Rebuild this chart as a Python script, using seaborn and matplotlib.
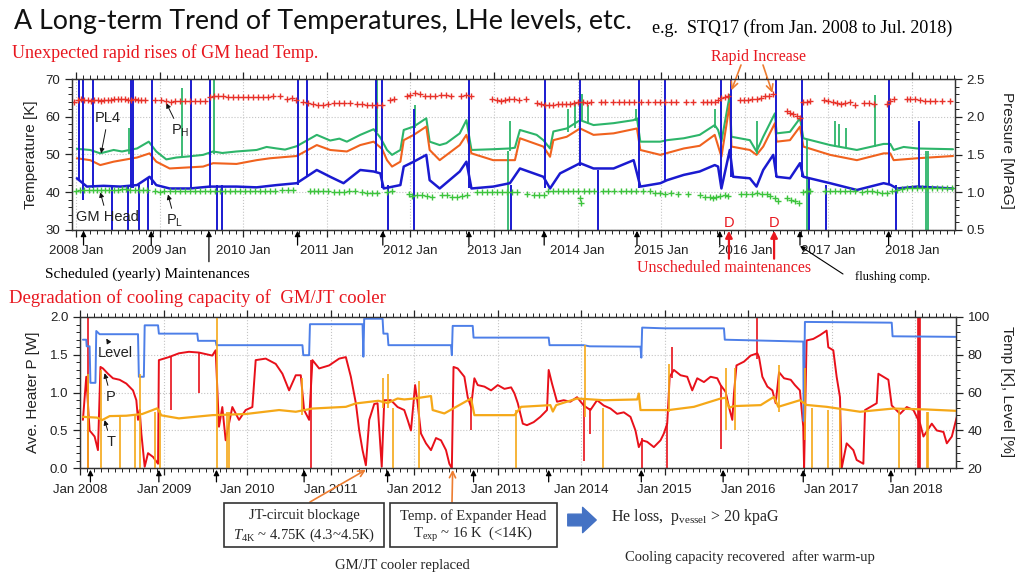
import matplotlib
matplotlib.use("Agg")
import matplotlib.pyplot as plt
from matplotlib.patches import Rectangle, FancyArrowPatch
from matplotlib.ticker import MultipleLocator, FixedLocator
import pandas as pd
import seaborn as sns

# ---------------- data (time in decimal years) ----------------
# top panel, temperatures [K]
green_top = [(2008.01, 51.5), (2008.17, 51.2), (2008.29, 50.3), (2008.45, 51.2), (2008.55, 50.8),
             (2008.73, 51.6), (2008.87, 53.4), (2008.96, 50.8), (2009.08, 48.7), (2009.20, 49.2),
             (2009.35, 49.5), (2009.52, 49.9), (2009.64, 50.8), (2009.75, 50.4), (2009.92, 50.8),
             (2010.16, 51.2), (2010.28, 52.0), (2010.40, 51.6), (2010.50, 51.3), (2010.64, 52.2),
             (2010.88, 55.2), (2011.04, 53.7), (2011.15, 54.2), (2011.24, 53.4), (2011.40, 55.2),
             (2011.56, 56.7), (2011.64, 54.5), (2011.72, 51.2), (2011.78, 49.9), (2011.88, 51.2),
             (2011.92, 56.5), (2012.04, 57.4), (2012.19, 59.6), (2012.23, 53.4), (2012.35, 52.5),
             (2012.43, 53.0), (2012.59, 55.6), (2012.67, 59.1), (2012.73, 51.2), (2012.99, 51.4),
             (2013.19, 51.6), (2013.25, 51.8), (2013.31, 56.5), (2013.51, 55.2), (2013.59, 53.8),
             (2013.67, 51.6), (2013.71, 56.1), (2013.87, 56.9), (2014.03, 59.1), (2014.19, 57.8),
             (2014.43, 58.3), (2014.67, 59.1), (2014.71, 59.6), (2014.75, 53.4), (2014.99, 53.4),
             (2015.07, 53.8), (2015.27, 54.3), (2015.46, 55.2), (2015.64, 57.8), (2015.68, 56.5),
             (2015.72, 53.4), (2015.82, 65.8), (2015.84, 54.7), (2016.06, 53.8), (2016.14, 50.8),
             (2016.22, 54.7), (2016.36, 60.9), (2016.38, 55.6), (2016.54, 56.0), (2016.66, 59.6),
             (2016.70, 54.3), (2017.02, 52.5), (2017.34, 51.2), (2017.66, 52.8), (2017.74, 52.8),
             (2017.78, 51.2), (2017.90, 52.0), (2018.06, 51.6), (2018.49, 51.4)]
orange_top = [(2008.01, 49.0), (2008.17, 48.5), (2008.29, 47.2), (2008.45, 48.1), (2008.73, 49.2),
              (2008.88, 50.3), (2008.96, 48.1), (2009.12, 46.3), (2009.52, 46.8), (2009.64, 47.7),
              (2009.92, 47.5), (2010.16, 48.5), (2010.32, 49.0), (2010.64, 49.6), (2010.88, 52.5),
              (2011.04, 51.2), (2011.24, 50.8), (2011.40, 52.5), (2011.56, 53.4), (2011.66, 51.5),
              (2011.72, 48.5), (2011.78, 46.8), (2011.88, 48.1), (2011.92, 53.8), (2012.04, 55.2),
              (2012.19, 57.4), (2012.23, 51.2), (2012.35, 48.5), (2012.59, 52.5), (2012.67, 55.2),
              (2012.73, 50.3), (2012.99, 48.5), (2013.25, 48.5), (2013.31, 54.3), (2013.59, 52.1),
              (2013.67, 49.4), (2013.71, 53.8), (2013.87, 54.7), (2014.03, 56.9), (2014.19, 55.2),
              (2014.43, 55.6), (2014.71, 56.9), (2014.75, 51.2), (2014.99, 49.9), (2015.27, 51.6),
              (2015.46, 52.3), (2015.64, 55.2), (2015.72, 49.4), (2015.82, 63.5), (2015.84, 52.1),
              (2016.06, 51.2), (2016.14, 49.9), (2016.22, 52.1), (2016.36, 58.3), (2016.38, 53.4),
              (2016.54, 53.8), (2016.66, 57.4), (2016.70, 52.1), (2017.02, 49.9), (2017.34, 48.5),
              (2017.66, 50.3), (2017.74, 50.3), (2017.78, 48.5), (2018.06, 49.0), (2018.49, 49.6)]
blue_top = [(2008.01, 43.7), (2008.13, 41.5), (2008.33, 41.7), (2008.53, 41.5), (2008.73, 41.9),
            (2008.88, 44.1), (2008.96, 41.9), (2009.12, 41.0), (2009.36, 41.0), (2009.60, 41.5),
            (2009.92, 41.5), (2010.16, 41.3), (2010.40, 41.9), (2010.64, 42.4), (2010.88, 45.9),
            (2011.04, 44.1), (2011.20, 42.4), (2011.40, 45.9), (2011.56, 45.5), (2011.64, 45.0),
            (2011.68, 41.0), (2011.88, 41.9), (2011.92, 46.8), (2012.04, 48.1), (2012.19, 49.9),
            (2012.23, 43.2), (2012.35, 41.0), (2012.59, 45.5), (2012.67, 48.1), (2012.73, 41.0),
            (2012.99, 41.5), (2013.19, 42.4), (2013.31, 46.3), (2013.59, 44.1), (2013.67, 41.0),
            (2013.79, 45.0), (2014.03, 47.7), (2014.19, 46.3), (2014.43, 46.3), (2014.67, 48.5),
            (2014.75, 41.5), (2014.99, 42.4), (2015.07, 43.2), (2015.27, 44.6), (2015.46, 45.5),
            (2015.64, 47.2), (2015.68, 46.8), (2015.72, 41.0), (2015.82, 51.2), (2015.86, 44.1),
            (2016.06, 43.7), (2016.14, 41.5), (2016.22, 45.9), (2016.34, 49.9), (2016.38, 44.1),
            (2016.54, 43.7), (2016.66, 47.7), (2016.70, 44.1), (2017.02, 42.4), (2017.34, 40.6),
            (2017.66, 42.4), (2017.74, 42.0), (2017.82, 41.0), (2018.06, 41.5), (2018.49, 41.0)]
# short excursions: (time, low, high)
blue_spikes = [(2008.03, 43, 70), (2008.08, 38, 70), (2008.20, 41, 70), (2008.43, 30, 42),
               (2008.62, 30, 42), (2008.66, 41, 70), (2008.68, 41, 70), (2008.75, 30, 42),
               (2008.86, 30, 44), (2008.91, 42, 70), (2009.38, 41, 70), (2009.60, 41, 70),
               (2009.69, 30, 42), (2009.75, 30, 42), (2010.65, 42, 70), (2010.76, 44, 70),
               (2011.59, 45, 70), (2011.66, 41, 70), (2011.73, 30, 42), (2012.04, 30, 62),
               (2012.70, 41, 70), (2013.20, 30, 42), (2013.61, 41, 70), (2014.03, 47, 70),
               (2014.24, 30, 46), (2014.73, 41, 70), (2015.05, 43, 70), (2015.72, 41, 70),
               (2015.84, 44, 70), (2016.37, 44, 70), (2016.68, 44, 70), (2016.77, 30, 44),
               (2016.97, 30, 42), (2017.73, 42, 70), (2017.81, 30, 42), (2018.08, 41, 59)]
green_spikes = [(2008.63, 50, 57), (2009.27, 49, 67.7), (2009.65, 50, 70), (2011.60, 56, 70),
                (2012.05, 57, 63), (2013.17, 30, 51), (2013.19, 51, 59), (2013.88, 56, 62),
                (2013.97, 57, 64), (2014.05, 59, 66), (2014.12, 58, 63), (2014.70, 59, 62),
                (2015.64, 57, 62), (2016.14, 50, 59), (2016.74, 30, 54), (2017.08, 52, 59),
                (2017.13, 52, 58), (2017.21, 52, 57), (2017.56, 52, 65.8), (2018.17, 30, 51),
                (2018.19, 30, 51)]
# compressor pressures [MPaG]
ph_points = [(2007.98, 2.19), (2008.02, 2.22), (2008.06, 2.23), (2008.10, 2.22), (2008.14, 2.22),
             (2008.18, 2.21), (2008.22, 2.22), (2008.26, 2.22), (2008.30, 2.21), (2008.34, 2.22),
             (2008.38, 2.22), (2008.42, 2.22), (2008.46, 2.23), (2008.50, 2.23), (2008.54, 2.23),
             (2008.58, 2.23), (2008.62, 2.22), (2008.66, 2.22), (2008.70, 2.23), (2008.74, 2.22),
             (2008.78, 2.22), (2008.82, 2.22), (2008.95, 2.22), (2009.02, 2.22), (2009.08, 2.21),
             (2009.14, 2.20), (2009.18, 2.21), (2009.24, 2.21), (2009.30, 2.21), (2009.36, 2.21),
             (2009.42, 2.21), (2009.48, 2.21), (2009.54, 2.21), (2009.60, 2.26), (2009.65, 2.27),
             (2009.70, 2.27), (2009.76, 2.27), (2009.82, 2.26), (2009.88, 2.26), (2009.94, 2.26),
             (2010.00, 2.26), (2010.06, 2.26), (2010.12, 2.26), (2010.18, 2.26), (2010.24, 2.26),
             (2010.30, 2.26), (2010.36, 2.27), (2010.44, 2.27), (2010.52, 2.24), (2010.58, 2.25),
             (2010.63, 2.22), (2010.72, 2.20), (2010.78, 2.18), (2010.84, 2.17), (2010.90, 2.16),
             (2010.96, 2.15), (2011.02, 2.17), (2011.08, 2.18), (2011.14, 2.18), (2011.20, 2.18),
             (2011.28, 2.18), (2011.36, 2.17), (2011.42, 2.17), (2011.48, 2.16), (2011.54, 2.16),
             (2011.60, 2.15), (2011.66, 2.16), (2011.76, 2.22), (2011.80, 2.24), (2011.96, 2.28),
             (2012.00, 2.29), (2012.06, 2.31), (2012.12, 2.30), (2012.18, 2.28), (2012.24, 2.28),
             (2012.30, 2.28), (2012.36, 2.29), (2012.42, 2.29), (2012.48, 2.28), (2012.60, 2.28),
             (2012.66, 2.29), (2012.72, 2.27), (2012.98, 2.23), (2013.03, 2.22), (2013.08, 2.21),
             (2013.13, 2.22), (2013.18, 2.23), (2013.24, 2.24), (2013.30, 2.22), (2013.38, 2.23),
             (2013.52, 2.18), (2013.56, 2.17), (2013.61, 2.16), (2013.66, 2.16), (2013.71, 2.16),
             (2013.76, 2.17), (2013.81, 2.17), (2013.86, 2.17), (2013.91, 2.17), (2013.96, 2.18),
             (2014.01, 2.19), (2014.06, 2.19), (2014.11, 2.18), (2014.16, 2.19), (2014.28, 2.19),
             (2014.33, 2.19), (2014.42, 2.19), (2014.50, 2.19), (2014.56, 2.19), (2014.62, 2.19),
             (2014.68, 2.20), (2014.76, 2.19), (2014.84, 2.19), (2014.92, 2.19), (2014.98, 2.19),
             (2015.04, 2.19), (2015.12, 2.19), (2015.18, 2.19), (2015.30, 2.19), (2015.38, 2.20),
             (2015.50, 2.20), (2015.55, 2.20), (2015.60, 2.19), (2015.64, 2.20), (2015.68, 2.22),
             (2015.72, 2.25), (2015.76, 2.26), (2015.80, 2.28), (2015.94, 2.22), (2015.99, 2.22),
             (2016.04, 2.22), (2016.09, 2.23), (2016.14, 2.24), (2016.19, 2.25), (2016.24, 2.27),
             (2016.29, 2.28), (2016.34, 2.30), (2016.50, 2.07), (2016.54, 2.05), (2016.58, 2.03),
             (2016.62, 2.01), (2016.66, 1.99), (2016.70, 2.20), (2016.74, 2.20), (2016.78, 2.21),
             (2016.95, 2.22), (2017.00, 2.21), (2017.05, 2.19), (2017.10, 2.18), (2017.15, 2.17),
             (2017.20, 2.18), (2017.26, 2.20), (2017.32, 2.16), (2017.42, 2.18), (2017.48, 2.18),
             (2017.55, 2.17), (2017.70, 2.17), (2017.74, 2.21), (2017.78, 2.24), (2017.94, 2.23),
             (2017.98, 2.24), (2018.04, 2.23), (2018.10, 2.22), (2018.16, 2.21), (2018.22, 2.21),
             (2018.28, 2.21), (2018.36, 2.21), (2018.46, 2.21)]
pl_points = [(2008.00, 1.02), (2008.05, 1.03), (2008.10, 1.03), (2008.15, 1.03), (2008.20, 1.03),
             (2008.25, 1.03), (2008.30, 1.03), (2008.35, 1.03), (2008.40, 1.03), (2008.45, 1.03),
             (2008.50, 1.03), (2008.55, 1.04), (2008.60, 1.04), (2008.65, 1.03), (2008.70, 1.03),
             (2008.75, 1.03), (2008.80, 1.03), (2008.85, 1.03), (2008.95, 1.01), (2009.00, 1.00),
             (2009.05, 1.01), (2009.12, 1.02), (2009.18, 1.02), (2009.24, 1.02), (2009.30, 1.02),
             (2009.36, 1.01), (2009.42, 1.01), (2009.48, 1.01), (2009.54, 1.02), (2009.60, 1.02),
             (2009.66, 1.02), (2009.72, 1.02), (2009.78, 1.02), (2009.84, 1.02), (2009.90, 1.02),
             (2009.96, 1.02), (2010.02, 1.02), (2010.08, 1.02), (2010.14, 1.02), (2010.20, 1.02),
             (2010.26, 1.02), (2010.32, 1.02), (2010.38, 1.02), (2010.46, 1.03), (2010.54, 1.03),
             (2010.60, 1.03), (2010.80, 1.02), (2010.85, 1.01), (2010.90, 1.01), (2010.96, 1.02),
             (2011.02, 1.01), (2011.08, 1.00), (2011.14, 1.00), (2011.20, 1.00), (2011.26, 1.01),
             (2011.34, 1.01), (2011.42, 1.00), (2011.48, 0.99), (2011.54, 0.99), (2011.60, 0.99),
             (2011.72, 1.00), (2011.78, 1.01), (2011.98, 0.98), (2012.02, 0.95), (2012.08, 0.96),
             (2012.14, 0.96), (2012.20, 0.95), (2012.26, 0.94), (2012.38, 0.96), (2012.44, 0.96),
             (2012.50, 0.94), (2012.56, 0.94), (2012.62, 0.95), (2012.68, 0.96), (2012.80, 1.00),
             (2012.86, 1.00), (2012.92, 1.00), (2012.98, 1.00), (2013.04, 1.00), (2013.10, 1.00),
             (2013.16, 1.00), (2013.22, 1.00), (2013.28, 1.00), (2013.40, 0.98), (2013.48, 0.96),
             (2013.54, 0.97), (2013.60, 0.97), (2013.64, 1.01), (2013.70, 1.01), (2013.76, 1.01),
             (2013.82, 1.01), (2013.88, 1.01), (2013.94, 1.01), (2014.00, 1.01), (2014.03, 0.93),
             (2014.04, 0.86), (2014.08, 1.01), (2014.14, 1.01), (2014.20, 1.01), (2014.30, 1.01),
             (2014.36, 1.01), (2014.44, 1.01), (2014.52, 1.01), (2014.58, 1.01), (2014.64, 1.01),
             (2014.70, 1.01), (2014.78, 1.01), (2014.86, 1.01), (2014.92, 0.99), (2014.98, 0.99),
             (2015.04, 0.98), (2015.12, 0.99), (2015.20, 0.98), (2015.32, 0.98), (2015.46, 0.96),
             (2015.52, 0.94), (2015.58, 0.94), (2015.62, 0.93), (2015.66, 0.94), (2015.70, 0.95),
             (2015.76, 0.96), (2015.80, 0.95), (2015.96, 0.98), (2016.02, 0.98), (2016.08, 0.98),
             (2016.14, 0.99), (2016.20, 0.98), (2016.26, 0.98), (2016.30, 0.95), (2016.36, 0.92),
             (2016.40, 0.89), (2016.50, 0.92), (2016.55, 0.90), (2016.60, 0.88), (2016.65, 0.86),
             (2016.70, 1.00), (2016.74, 1.01), (2016.78, 1.01), (2016.96, 1.01), (2017.02, 1.01),
             (2017.08, 1.01), (2017.14, 1.01), (2017.20, 1.01), (2017.26, 1.02), (2017.32, 1.01),
             (2017.40, 1.00), (2017.46, 1.01), (2017.52, 1.01), (2017.58, 1.00), (2017.64, 0.99),
             (2017.70, 0.99), (2017.76, 1.02), (2017.82, 1.03), (2017.88, 1.04), (2017.94, 1.05),
             (2018.00, 1.05), (2018.06, 1.06), (2018.12, 1.05), (2018.18, 1.05), (2018.24, 1.05),
             (2018.30, 1.05), (2018.36, 1.05), (2018.42, 1.05), (2018.48, 1.05)]

# bottom panel: heater power [W], temperature [K], LHe level [%]
heater_p = [(2008.03, 0.64), (2008.07, 1.21), (2008.11, 0.50), (2008.17, 0.42), (2008.21, 0.24),
            (2008.24, 1.34), (2008.27, 1.32), (2008.33, 1.25), (2008.39, 1.19), (2008.47, 1.17),
            (2008.55, 1.12), (2008.63, 1.03), (2008.67, 0.90), (2008.69, 0.64), (2008.71, 0.77),
            (2008.73, 0.46), (2008.77, 0.02), (2008.81, 0.20), (2008.87, 0.15), (2008.93, 0.06),
            (2008.94, 1.43), (2009.06, 1.47), (2009.18, 1.52), (2009.30, 1.54), (2009.42, 1.53),
            (2009.58, 1.49), (2009.62, 1.56), (2009.66, 0.55), (2009.70, 0.81), (2009.74, 0.37),
            (2009.82, 0.81), (2009.90, 0.64), (2009.98, 0.77), (2010.06, 0.81), (2010.10, 1.43),
            (2010.22, 1.45), (2010.34, 1.38), (2010.42, 1.25), (2010.50, 1.03), (2010.58, 1.23),
            (2010.64, 1.23), (2010.68, 0.77), (2010.74, 0.64), (2010.78, 1.43), (2010.86, 1.32),
            (2010.98, 1.36), (2011.10, 1.45), (2011.18, 1.47), (2011.24, 1.21), (2011.30, 0.86),
            (2011.34, 0.50), (2011.38, 0.24), (2011.42, 0.04), (2011.46, 0.64), (2011.52, 0.85),
            (2011.56, 0.86), (2011.61, 0.02), (2011.64, 0.90), (2011.72, 0.90), (2011.80, 0.81),
            (2011.88, 0.77), (2011.92, 0.64), (2011.96, 0.50), (2012.01, 1.10), (2012.04, 0.86),
            (2012.08, 0.46), (2012.14, 0.33), (2012.20, 0.24), (2012.26, 0.40), (2012.32, 0.37),
            (2012.38, 0.24), (2012.42, 0.06), (2012.45, 0.00), (2012.47, 1.34), (2012.52, 1.32),
            (2012.60, 1.21), (2012.64, 0.94), (2012.68, 0.81), (2012.72, 1.19), (2012.76, 1.10),
            (2012.84, 1.08), (2012.92, 1.03), (2013.00, 1.10), (2013.08, 1.05), (2013.16, 1.07),
            (2013.20, 0.99), (2013.24, 0.86), (2013.30, 0.59), (2013.35, 0.57), (2013.43, 0.61),
            (2013.51, 0.68), (2013.59, 0.77), (2013.61, 1.30), (2013.65, 1.12), (2013.71, 0.88),
            (2013.79, 0.90), (2013.87, 0.88), (2013.95, 0.94), (2014.03, 0.83), (2014.11, 0.77),
            (2014.19, 0.90), (2014.27, 0.83), (2014.35, 0.79), (2014.43, 0.72), (2014.51, 0.74),
            (2014.59, 0.68), (2014.65, 0.50), (2014.69, 0.28), (2014.73, 0.37), (2014.79, 0.35),
            (2014.87, 0.28), (2014.95, 0.37), (2014.99, 0.46), (2015.03, 0.59), (2015.06, 1.21),
            (2015.11, 1.30), (2015.19, 1.23), (2015.27, 1.21), (2015.33, 1.03), (2015.39, 1.19),
            (2015.47, 1.14), (2015.55, 1.21), (2015.63, 1.19), (2015.67, 1.10), (2015.73, 1.01),
            (2015.77, 0.81), (2015.81, 0.64), (2015.83, 0.99), (2015.86, 1.36), (2015.95, 1.41),
            (2016.03, 1.49), (2016.11, 1.52), (2016.13, 1.47), (2016.17, 1.21), (2016.23, 1.08),
            (2016.29, 1.03), (2016.33, 0.86), (2016.37, 1.27), (2016.43, 1.19), (2016.51, 1.17),
            (2016.56, 1.10), (2016.62, 1.03), (2016.66, 0.55), (2016.67, 0.00), (2016.70, 1.69),
            (2016.78, 1.71), (2016.86, 1.76), (2016.94, 1.82), (2016.96, 1.60), (2017.02, 1.56),
            (2017.06, 1.21), (2017.10, 0.94), (2017.12, 0.00), (2017.18, 0.33), (2017.26, 0.24),
            (2017.30, 0.11), (2017.38, 0.06), (2017.40, 0.77), (2017.54, 0.86), (2017.56, 1.25),
            (2017.68, 1.17), (2017.72, 0.83), (2017.82, 0.72), (2017.90, 0.81), (2017.98, 0.77),
            (2018.06, 0.59), (2018.10, 0.42), (2018.20, 0.59), (2018.26, 0.50), (2018.34, 0.48),
            (2018.38, 0.33), (2018.44, 0.42), (2018.50, 0.68)]
heater_spikes = [(2008.09, 0.0, 2.0), (2009.08, 0.77, 1.47), (2009.42, 1.0, 1.53),
                 (2010.76, 0.0, 1.43), (2012.68, 0.5, 0.94), (2014.03, 0.1, 0.90),
                 (2014.11, 0.45, 0.80), (2014.73, 0.0, 0.40), (2015.03, 0.0, 0.60),
                 (2015.09, 1.2, 1.6), (2015.67, 0.26, 1.10), (2016.11, 1.45, 2.0),
                 (2018.04, 0.0, 2.0), (2018.05, 0.0, 2.0), (2018.06, 0.0, 2.0)]
temp_t = [(2008.03, 47.2), (2008.20, 46.8), (2008.26, 45.5), (2008.35, 47.6), (2008.55, 47.8),
          (2008.74, 48.7), (2008.92, 51.7), (2008.97, 48.0), (2009.18, 46.4), (2009.58, 48.1),
          (2009.98, 48.7), (2010.38, 50.8), (2010.58, 49.9), (2010.78, 51.6), (2011.18, 52.5),
          (2011.30, 54.3), (2011.57, 55.7), (2011.68, 54.5), (2011.80, 56.9), (2011.88, 56.4),
          (2012.00, 56.9), (2012.20, 58.2), (2012.22, 50.8), (2012.36, 49.0), (2012.68, 56.9),
          (2012.72, 48.1), (2013.20, 48.1), (2013.28, 52.5), (2013.63, 53.4), (2013.66, 50.0),
          (2013.70, 53.4), (2013.95, 56.9), (2014.27, 56.0), (2014.67, 56.4), (2014.69, 59.5),
          (2014.71, 50.8), (2015.05, 50.8), (2015.35, 52.5), (2015.67, 56.9), (2015.73, 57.3),
          (2015.77, 52.0), (2015.83, 52.9), (2016.15, 53.4), (2016.31, 57.8), (2016.36, 52.5),
          (2016.62, 56.0), (2016.70, 53.5), (2016.94, 52.5), (2017.34, 49.9), (2017.74, 51.6),
          (2018.14, 51.1), (2018.49, 50.4)]
temp_spikes = [(2008.09, 20, 70), (2008.25, 20, 72), (2008.47, 20, 47), (2008.65, 20, 48),
               (2008.71, 20, 70), (2008.89, 20, 50), (2008.95, 20, 51), (2009.64, 20, 100),
               (2009.76, 20, 50), (2009.78, 20, 50), (2010.66, 48, 68), (2011.62, 52, 68),
               (2011.68, 52, 70), (2011.75, 20, 52), (2012.06, 20, 66), (2013.22, 20, 51),
               (2014.04, 47, 85), (2014.26, 20, 52), (2015.05, 50, 75), (2015.73, 40, 73),
               (2015.84, 40, 73), (2016.37, 50, 74.5), (2016.68, 35, 73), (2016.76, 20, 52),
               (2016.96, 20, 51), (2017.10, 20, 51), (2017.81, 20, 51), (2018.14, 20, 50),
               (2018.16, 20, 50)]
level = [(2008.03, 88.0), (2008.07, 88.0), (2008.075, 84.5), (2008.11, 84.5), (2008.12, 65.2),
         (2008.18, 65.2), (2008.19, 92.6), (2008.23, 90.9), (2008.69, 90.9), (2008.70, 68.4),
         (2008.76, 68.4), (2008.77, 95.6), (2008.93, 95.6), (2008.94, 91.2), (2009.40, 91.2),
         (2009.41, 87.4), (2009.62, 87.4), (2009.63, 85.1), (2010.66, 85.1), (2010.67, 79.8),
         (2010.74, 79.8), (2010.75, 96.2), (2011.38, 96.2), (2011.39, 79.0), (2011.40, 99.1),
         (2011.62, 99.1), (2011.63, 91.2), (2011.68, 91.2), (2011.69, 85.1), (2012.44, 85.1),
         (2012.45, 79.8), (2012.46, 95.3), (2012.70, 95.3), (2012.71, 89.1), (2013.61, 89.1),
         (2013.62, 85.1), (2014.03, 85.1), (2014.10, 84.5), (2014.71, 84.3), (2014.72, 78.5),
         (2014.73, 94.4), (2015.00, 94.0), (2015.71, 94.0), (2015.72, 88.0), (2016.66, 87.0),
         (2016.665, 45.0), (2016.68, 97.4), (2017.72, 97.0), (2017.73, 89.8), (2018.49, 89.5)]

years = list(range(2008, 2019))
maint_top = [2008.09, 2008.90, 2009.59, 2010.65, 2011.67, 2012.70, 2013.60, 2014.71,
             2015.70, 2016.66, 2017.72]
maint_bottom = [2008.12, 2008.94, 2009.63, 2010.68, 2011.68, 2012.71, 2013.61, 2014.72,
                2015.70, 2016.66, 2017.71]
unscheduled = [2015.81, 2016.35]

# ---------------- style ----------------
sns.set_theme(style="white")
plt.rcParams["font.family"] = ["Liberation Sans", "DejaVu Sans"]
plt.rcParams["mathtext.fontset"] = "custom"
plt.rcParams["mathtext.rm"] = "Liberation Serif"
plt.rcParams["mathtext.it"] = "Liberation Serif:italic"
plt.rcParams["mathtext.sf"] = "Liberation Sans"

W, H = 1024, 576
RED = "#e8171f"
ORANGE_ARROW = "#ed7d31"
SERIF = ["Liberation Serif", "DejaVu Serif"]


def fp(x, y):
    # figure pixel (from top-left) -> figure fraction
    return (x / W, 1 - y / H)


def to_df(pairs):
    return pd.DataFrame(pairs, columns=["t", "v"])


def draw_line(ax, pairs, color, lw=1.5):
    d = to_df(pairs)
    sns.lineplot(data=d, x="t", y="v", ax=ax, color=color, lw=lw,
                 estimator=None, sort=False, legend=False)


def draw_spikes(ax, spikes, color, lw=1.3):
    d = pd.DataFrame(spikes, columns=["t", "lo", "hi"])
    ax.vlines(d["t"], d["lo"], d["hi"], colors=color, lw=lw)


def style_axis(ax, axr, xlim, xfmt):
    ax.set_xlim(*xlim)
    ax.xaxis.set_major_locator(FixedLocator(years))
    ax.set_xticklabels([xfmt.format(y) for y in years])
    ax.xaxis.set_minor_locator(MultipleLocator(1 / 12))
    ax.tick_params(axis="x", which="both", direction="out", top=True, bottom=True,
                   labelsize=9.5, colors="#222222", pad=6)
    ax.tick_params(which="major", length=5, width=0.9)
    ax.tick_params(which="minor", length=3, width=0.7)
    ax.tick_params(axis="y", which="both", direction="out", labelsize=9.5, colors="#222222")
    axr.tick_params(axis="y", which="both", direction="out", labelsize=9.5, colors="#222222")
    axr.tick_params(which="major", length=5, width=0.9)
    axr.tick_params(which="minor", length=3, width=0.7)
    ax.grid(True, which="major", color="#c4c4c4", ls=":", lw=0.8)
    axr.grid(False)
    for a in (ax, axr):
        for s in a.spines.values():
            s.set_color("#333333")
            s.set_linewidth(0.9)
    ax.set_xlabel("")
    ax.set_ylabel("")
    axr.set_xlabel("")
    axr.set_ylabel("")


fig = plt.figure(figsize=(W / 100, H / 100), dpi=100)
fig.patch.set_facecolor("white")

# ---------------- top panel ----------------
ax_t = fig.add_axes([72 / W, 1 - 230 / H, (955 - 72) / W, (230 - 79) / H])
ax_tp = ax_t.twinx()

draw_line(ax_t, green_top, "#2db56a")
draw_line(ax_t, orange_top, "#f0621e")
draw_spikes(ax_t, green_spikes, "#2db56a")
draw_line(ax_t, blue_top, "#1a1ad0", lw=1.8)
draw_spikes(ax_t, blue_spikes, "#1a1ad0", lw=1.4)

ph = to_df(ph_points)
pl = to_df(pl_points)
sns.scatterplot(data=ph, x="t", y="v", ax=ax_tp, marker="+", s=20, color="#e8322a",
                linewidth=1.0, legend=False)
sns.scatterplot(data=pl, x="t", y="v", ax=ax_tp, marker="+", s=20, color="#3dc43d",
                linewidth=1.0, legend=False)

ax_t.set_ylim(30, 70)
ax_t.yaxis.set_major_locator(MultipleLocator(10))
ax_t.yaxis.set_minor_locator(MultipleLocator(2))
ax_tp.set_ylim(0.5, 2.5)
ax_tp.yaxis.set_major_locator(MultipleLocator(0.5))
ax_tp.yaxis.set_minor_locator(MultipleLocator(0.1))
ax_tp.yaxis.set_major_formatter(matplotlib.ticker.FormatStrFormatter("%.1f"))
style_axis(ax_t, ax_tp, (2007.952, 2018.514), "{} Jan")

# curve labels
lab_kw = dict(fontsize=10.5, color="#222222", ha="center", va="center",
              textcoords="figure fraction",
              arrowprops=dict(arrowstyle="-|>", color="#111111", lw=0.7, mutation_scale=7,
                              shrinkA=1, shrinkB=0))
ax_t.annotate("PL4", xy=(2008.30, 50.3), xytext=fp(108, 118), **lab_kw)
ax_t.annotate(r"P$_{\mathsf{H}}$", xy=(2009.08, 63.6), xytext=fp(180, 131), **lab_kw)
ax_t.annotate("GM Head", xy=(2008.29, 40.0), xytext=fp(107, 217), **lab_kw)
ax_t.annotate(r"P$_{\mathsf{L}}$", xy=(2009.10, 39.4), xytext=fp(175, 221), **lab_kw)

# maintenance arrows under the top axis
xt = ax_t.get_xaxis_transform()
for t in maint_top:
    tail = -0.21 if t == 2009.59 else -0.10
    ax_t.annotate("", xy=(t, -0.005), xycoords=xt, xytext=(t, tail), textcoords=xt,
                  annotation_clip=False,
                  arrowprops=dict(arrowstyle="-|>", color="black", lw=0.9, mutation_scale=8,
                                  shrinkA=0, shrinkB=0))
for t in unscheduled:
    ax_t.annotate("", xy=(t, -0.005), xycoords=xt, xytext=(t, -0.19), textcoords=xt,
                  annotation_clip=False,
                  arrowprops=dict(arrowstyle="-|>", color=RED, lw=1.6, mutation_scale=10,
                                  shrinkA=0, shrinkB=0))
    ax_t.text(t, 0.045, "D", transform=xt, color=RED, fontsize=10.5, ha="center", va="center")

# rapid increase arrows
for tip, start in [((2015.84, 67.0), (741, 65)), ((2016.33, 66.3), (763, 65))]:
    ax_t.annotate("", xy=tip, xytext=fp(*start), textcoords="figure fraction",
                  annotation_clip=False,
                  arrowprops=dict(arrowstyle="->", color=ORANGE_ARROW, lw=1.2,
                                  mutation_scale=12, shrinkA=0, shrinkB=0))

# ---------------- bottom panel ----------------
ax_b = fig.add_axes([80 / W, 1 - 468.3 / H, (956 - 80) / W, (468.3 - 317) / H])
ax_bp = ax_b.twinx()

draw_line(ax_b, heater_p, "#e8101a", lw=1.4)
draw_spikes(ax_b, heater_spikes, "#e8101a", lw=1.2)
draw_line(ax_bp, level, "#4d7fe8", lw=1.4)
draw_line(ax_bp, temp_t, "#f5a818", lw=1.6)
draw_spikes(ax_bp, temp_spikes, "#f5a818", lw=1.2)

ax_b.set_ylim(0, 2.0)
ax_b.yaxis.set_major_locator(MultipleLocator(0.5))
ax_b.yaxis.set_minor_locator(MultipleLocator(0.1))
ax_b.yaxis.set_major_formatter(matplotlib.ticker.FormatStrFormatter("%.1f"))
ax_bp.set_ylim(20, 100)
ax_bp.yaxis.set_major_locator(MultipleLocator(20))
ax_bp.yaxis.set_minor_locator(MultipleLocator(4))
style_axis(ax_b, ax_bp, (2007.995, 2018.49), "Jan {}")

ax_b.annotate("Level", xy=(2008.31, 1.715), xytext=fp(115, 353), **lab_kw)
ax_b.annotate("P", xy=(2008.29, 1.257), xytext=fp(111, 397), **lab_kw)
ax_b.annotate("T", xy=(2008.29, 0.637), xytext=fp(111, 442), **lab_kw)

xb = ax_b.get_xaxis_transform()
for t in maint_bottom:
    ax_b.annotate("", xy=(t, -0.01), xycoords=xb, xytext=(t, -0.09), textcoords=xb,
                  annotation_clip=False,
                  arrowprops=dict(arrowstyle="-|>", color="black", lw=0.9, mutation_scale=8,
                                  shrinkA=0, shrinkB=0))

for tip, start in [((2011.42, -0.01), (310, 502)), ((2012.46, -0.01), (452, 502))]:
    ax_b.annotate("", xy=tip, xycoords=xb, xytext=fp(*start), textcoords="figure fraction",
                  annotation_clip=False,
                  arrowprops=dict(arrowstyle="->", color=ORANGE_ARROW, lw=1.2,
                                  mutation_scale=11, shrinkA=0, shrinkB=0))

# ---------------- axis titles ----------------
fig.text(*fp(31, 155), "Temperature [K]", rotation=90, ha="center", va="center",
         fontsize=11, color="#222222")
fig.text(*fp(1007, 150), "Pressure [MPaG]", rotation=270, ha="center", va="center",
         fontsize=11, color="#222222")
fig.text(*fp(33, 392), "Ave. Heater P [W]", rotation=90, ha="center", va="center",
         fontsize=11, color="#222222")
fig.text(*fp(1007, 392), "Temp [K], Level [%]", rotation=270, ha="center", va="center",
         fontsize=11, color="#222222")

# ---------------- slide texts ----------------
fig.text(*fp(14, 22), "A Long-term Trend of Temperatures, LHe levels, etc.", ha="left",
         va="center", fontsize=19.3, family=["Lato", "DejaVu Sans"], color="#111111")
fig.text(*fp(652, 28), "e.g.  STQ17 (from Jan. 2008 to Jul. 2018)", ha="left", va="center",
         fontsize=13, family=SERIF, color="black")
fig.text(*fp(12, 53), "Unexpected rapid rises of GM head Temp.", ha="left", va="center",
         fontsize=13, family=SERIF, color=RED)
fig.text(*fp(711, 57), "Rapid Increase", ha="left", va="center", fontsize=11.5,
         family=SERIF, color=RED)
fig.text(*fp(45, 274), "Scheduled (yearly) Maintenances", ha="left", va="center",
         fontsize=11, family=SERIF, color="black")
fig.text(*fp(637, 268), "Unscheduled maintenances", ha="left", va="center",
         fontsize=11.5, family=SERIF, color=RED)
fig.text(*fp(855, 277), "flushing comp.", ha="left", va="center", fontsize=9,
         family=SERIF, color="black")
ax_t.annotate("", xy=fp(800, 246), xycoords="figure fraction", xytext=fp(843, 274),
              textcoords="figure fraction", annotation_clip=False,
              arrowprops=dict(arrowstyle="-|>", color="black", lw=0.8, mutation_scale=7,
                              shrinkA=0, shrinkB=0))
fig.text(*fp(9, 298), "Degradation of cooling capacity of  GM/JT cooler", ha="left",
         va="center", fontsize=13.5, family=SERIF, color=RED)

# boxes
for x0, x1 in [(224, 384), (390, 557)]:
    fig.add_artist(Rectangle(fp(x0, 547), (x1 - x0) / W, 44 / H, transform=fig.transFigure,
                             fill=False, ec="#333333", lw=1.2))
fig.text(*fp(304, 516), "JT-circuit blockage", ha="center", va="center", fontsize=10.5,
         family=SERIF)
fig.text(*fp(304, 535), r"$T_{\rm 4K}$ ~ 4.75K (4.3~4.5K)", ha="center", va="center",
         fontsize=10.5, family=SERIF)
fig.text(*fp(473, 516), "Temp. of Expander Head", ha="center", va="center", fontsize=10.5,
         family=SERIF)
fig.text(*fp(473, 535), r"T$_{\rm exp}$ ~ 16 K  (<14K)", ha="center", va="center",
         fontsize=10.5, family=SERIF)
fig.add_artist(FancyArrowPatch(fp(565, 520), fp(599, 520), transform=fig.transFigure,
                               arrowstyle="simple,head_length=0.7,head_width=1.3,tail_width=0.6",
                               mutation_scale=14, color="#4472c4"))
fig.text(*fp(611, 517), r"He loss,  p$_{\rm vessel}$ > 20 kpaG", ha="left", va="center",
         fontsize=11.5, family=SERIF)
fig.text(*fp(625, 557), "Cooling capacity recovered  after warm-up", ha="left",
         va="center", fontsize=10.5, family=SERIF)
fig.text(*fp(402, 565), "GM/JT cooler replaced", ha="center", va="center", fontsize=10.5,
         family=SERIF)

fig.savefig("out.png", dpi=100, facecolor="white")
